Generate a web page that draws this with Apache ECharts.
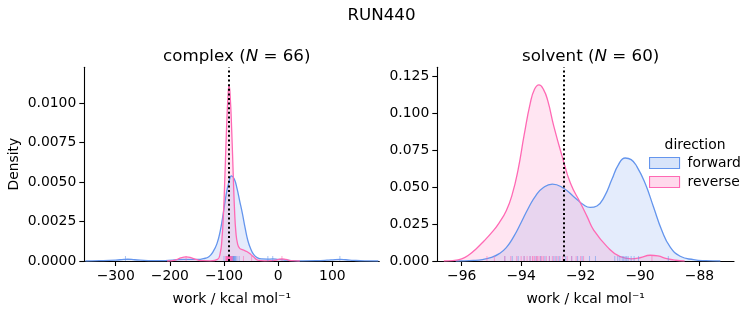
<!DOCTYPE html>
<html><head><meta charset="utf-8">
<script src="https://cdn.jsdelivr.net/npm/echarts@6/dist/echarts.min.js"></script>
<style>html,body{margin:0;padding:0;background:#fff}#c{width:753px;height:325px}</style>
</head><body><div id="c"></div>
<script>
// ---- data ----
const directions = ['forward', 'reverse'];
const panelNames = ['complex', 'solvent'];
const panelCounts = [66, 60];
const dottedEstimate = [-90.5, -92.58];

const complexXTicks = [-300, -200, -100, 0, 100];
const complexYTicks = [0, 0.0025, 0.005, 0.0075, 0.01];
const solventXTicks = [-96, -94, -92, -90, -88];
const solventYTicks = [0, 0.025, 0.05, 0.075, 0.1, 0.125];

const complexForwardX = [-356, -330, -300, -285, -278, -265, -240, -215, -195, -175, -160, -148, -138, -128, -120, -113, -107, -101, -96, -91, -86, -81, -76, -71, -66, -61, -56, -51, -45, -38, -30, -20, -10, 0, 10, 25, 45, 70, 90, 105, 115, 125, 140, 160, 185];
const complexForwardY = [0, 0.00002, 0.00006, 0.0001, 0.00011, 0.00008, 0.00003, 0.00003, 0.00006, 0.0001, 0.0001, 0.0001, 0.00015, 0.00027, 0.0006, 0.0011, 0.0019, 0.0031, 0.0042, 0.0050, 0.0054, 0.0052, 0.0046, 0.0038, 0.0030, 0.0021, 0.0013, 0.0008, 0.0004, 0.0002, 0.00013, 0.00012, 0.00013, 0.0001, 0.00007, 0.00003, 0.00001, 0.00002, 0.00005, 0.00009, 0.0001, 0.00008, 0.00004, 0.00001, 0];
const complexReverseX = [-205, -190, -180, -170, -160, -150, -140, -125, -112, -107, -104, -101, -98, -95, -92, -90.5, -88.5, -86, -83, -80.5, -78, -75, -71, -65, -58, -50, -45, -38, -25, -10, 0, 7, 14, 25, 40];
const complexReverseY = [0, 0.00006, 0.0002, 0.00026, 0.0002, 0.00008, 0.00002, 0.00001, 0.0001, 0.0005, 0.0013, 0.0030, 0.0057, 0.0087, 0.0108, 0.0111, 0.0104, 0.0085, 0.0055, 0.0032, 0.0018, 0.0011, 0.0008, 0.0007, 0.0006, 0.0004, 0.00025, 0.00006, 0.00001, 0.00002, 0.00008, 0.00014, 0.0001, 0.00002, 0];

const solventForwardX = [-96.2, -95.6, -95.3, -95.0, -94.75, -94.5, -94.25, -94.0, -93.75, -93.5, -93.25, -92.95, -92.6, -92.23, -91.89, -91.68, -91.45, -91.2, -90.95, -90.73, -90.5, -90.3, -90.11, -89.83, -89.55, -89.27, -88.99, -88.65, -88.2, -87.8, -87.3];
const solventForwardY = [0, 0.0004, 0.0010, 0.0024, 0.0048, 0.0090, 0.0165, 0.026, 0.036, 0.0444, 0.0497, 0.052, 0.0495, 0.0435, 0.0378, 0.0362, 0.0372, 0.0435, 0.055, 0.065, 0.0696, 0.0685, 0.064, 0.0525, 0.0367, 0.0208, 0.0095, 0.0032, 0.0009, 0.0002, 0];
const solventReverseX = [-96.6, -96.3, -96.0, -95.75, -95.5, -95.25, -95.0, -94.75, -94.5, -94.3, -94.1, -93.9, -93.7, -93.55, -93.4, -93.25, -93.1, -92.9, -92.62, -92.34, -92.0, -91.78, -91.56, -91.11, -90.67, -90.3, -90.0, -89.66, -89.4, -89.1, -88.8, -88.5];
const solventReverseY = [0, 0.0003, 0.0015, 0.0042, 0.0085, 0.0135, 0.019, 0.0255, 0.034, 0.045, 0.062, 0.085, 0.106, 0.116, 0.119, 0.116, 0.108, 0.091, 0.0707, 0.0525, 0.039, 0.030, 0.0209, 0.0097, 0.0029, 0.0015, 0.0022, 0.0039, 0.0034, 0.0016, 0.0005, 0];

const complexForwardRug = [-282, -100, -95, -92, -91, -90.5, -90, -89.5, -89, -88.5, -88, -87.5, -87, -86.5, -86, -85.5, -85, -84.5, -84, -83.5, -83, -82.5, -82, -81.5, -81, -80, -79, -78, -76, -72, -19, -10, 114];
const complexReverseRug = [-170, -97, -96, -95.5, -95, -94.5, -94, -93.5, -93.2, -93, -92.5, -92.2, -92, -91.5, -91.2, -91, -90.5, -90.2, -90, -89.5, -89.2, -89, -88.5, -88.2, -88, -87.5, -87, -86, -85, -84, -64, -49, 7];
const solventForwardRug = [-94.55, -94.3, -94.1, -93.9, -93.7, -93.5, -93.35, -93.2, -93.05, -92.9, -92.8, -92.7, -92.5, -92.3, -92.1, -91.95, -91.7, -91.5, -90.85, -90.75, -90.68, -90.6, -90.55, -90.5, -90.45, -90.4, -90.3, -90.2, -90.05, -89.05];
const solventReverseRug = [-95.15, -94.9, -94.55, -94.35, -94.15, -94.0, -93.9, -93.8, -93.7, -93.62, -93.6, -93.55, -93.48, -93.45, -93.4, -93.33, -93.3, -93.25, -93.15, -93.05, -92.95, -92.85, -92.75, -92.6, -92.45, -92.3, -92.15, -92.0, -91.9, -89.6];

// ---- styling ----
const FONT = 'DejaVu Sans';
const colors = { forward: '#6495ed', reverse: '#ff69b4' };
const fills = { forward: 'rgba(100,149,237,0.25)', reverse: 'rgba(255,105,180,0.25)' };
const zip = (xs, ys) => xs.map((x, i) => [x, ys[i]]);
const minusFmt = v => (v < 0 ? '\u2212' + Math.abs(v) : String(v));

const grids = [
  { left: 84.3, top: 67.3, width: 295, height: 193.7 },
  { left: 437.3, top: 67.3, width: 296.7, height: 193.7 }
];
const xRanges = [[-358, 186.8], [-96.82, -86.84]];
const yRanges = [[0, 0.01228], [0, 0.1309]];
const xTicks = [complexXTicks, solventXTicks];
const yTicks = [complexYTicks, solventYTicks];
const yDigits = [4, 3];

const axisCommon = {
  axisLine: { show: true, onZero: false, lineStyle: { color: '#000', width: 1.1 } },
  axisTick: { show: true, length: 5, lineStyle: { color: '#000', width: 1.1 } },
  splitLine: { show: false },
  nameTextStyle: { fontFamily: FONT, fontSize: 13.9, color: '#000' }
};

const xAxis = grids.map((g, i) => Object.assign({}, axisCommon, {
  type: 'value', gridIndex: i, min: xRanges[i][0], max: xRanges[i][1],
  name: 'work / kcal mol\u207B\u00B9', nameLocation: 'middle', nameGap: 31,
  axisTick: Object.assign({}, axisCommon.axisTick, { customValues: xTicks[i] }),
  axisLabel: { customValues: xTicks[i], formatter: minusFmt, margin: 8, fontFamily: FONT, fontSize: 13.9, color: '#000' }
}));
const yAxis = grids.map((g, i) => Object.assign({}, axisCommon, {
  type: 'value', gridIndex: i, min: yRanges[i][0], max: yRanges[i][1],
  name: i === 0 ? 'Density' : '', nameLocation: 'middle', nameGap: 63,
  axisTick: Object.assign({}, axisCommon.axisTick, { customValues: yTicks[i] }),
  axisLabel: { customValues: yTicks[i], formatter: v => v.toFixed(yDigits[i]), margin: 8, fontFamily: FONT, fontSize: 13.9, color: '#000' }
}));

const curves = [
  { forward: zip(complexForwardX, complexForwardY), reverse: zip(complexReverseX, complexReverseY) },
  { forward: zip(solventForwardX, solventForwardY), reverse: zip(solventReverseX, solventReverseY) }
];
const rugs = [
  { forward: complexForwardRug, reverse: complexReverseRug },
  { forward: solventForwardRug, reverse: solventReverseRug }
];

const series = [];
for (let i = 0; i < 2; i++) {
  directions.forEach(d => {
    series.push({
      name: d, type: 'line', xAxisIndex: i, yAxisIndex: i,
      data: curves[i][d], smooth: 0.5, showSymbol: false, symbol: 'none',
      lineStyle: { color: colors[d], width: 1.3 },
      itemStyle: { color: colors[d] },
      areaStyle: { color: fills[d], origin: 'start' },
      silent: true, animation: false, z: 2
    });
  });
  directions.forEach(d => {
    series.push({
      name: d + ' rug', type: 'scatter', xAxisIndex: i, yAxisIndex: i,
      data: rugs[i][d].map(v => [v, 0]),
      symbol: 'rect', symbolSize: [1, 5], symbolOffset: [0, -2.5],
      itemStyle: { color: colors[d], opacity: 0.55 },
      silent: true, animation: false, z: 3
    });
  });
  series.push({
    name: 'estimate', type: 'line', xAxisIndex: i, yAxisIndex: i, data: [],
    markLine: {
      silent: true, symbol: 'none', animation: false,
      label: { show: false },
      lineStyle: { color: '#000', width: 2, type: [2, 2.6] },
      data: [{ xAxis: dottedEstimate[i] }]
    }, z: 5
  });
}

const titleRich = { i: { fontFamily: FONT, fontSize: 16.7, fontStyle: 'italic', color: '#000' } };
const option = {
  animation: false,
  backgroundColor: '#fff',
  title: [
    { text: 'RUN440', left: 376.5, top: 2, textAlign: 'center',
      textStyle: { fontFamily: FONT, fontSize: 16.7, fontWeight: 'normal', color: '#000' } },
    ...grids.map((g, i) => ({
      text: panelNames[i] + ' ({i|N} = ' + panelCounts[i] + ')',
      left: g.left + g.width / 2, top: 43, textAlign: 'center',
      textStyle: { fontFamily: FONT, fontSize: 16.7, fontWeight: 'normal', color: '#000', rich: titleRich }
    })),
    { text: 'direction', left: 690, top: 133, textAlign: 'center',
      textStyle: { fontFamily: FONT, fontSize: 13.9, fontWeight: 'normal', color: '#000' } }
  ],
  legend: {
    orient: 'vertical', left: 649, top: 156, padding: 0, itemWidth: 30, itemHeight: 11, itemGap: 5,
    icon: 'rect', selectedMode: false,
    textStyle: { fontFamily: FONT, fontSize: 13.9, color: '#000', padding: [0, 0, 0, 3] },
    data: directions.map(d => ({ name: d, itemStyle: { color: fills[d], borderColor: colors[d], borderWidth: 1.1 } }))
  },
  grid: grids,
  xAxis, yAxis, series
};
const chart = echarts.init(document.getElementById('c'), null, { renderer: 'canvas' });
chart.setOption(option);
</script></body></html>
